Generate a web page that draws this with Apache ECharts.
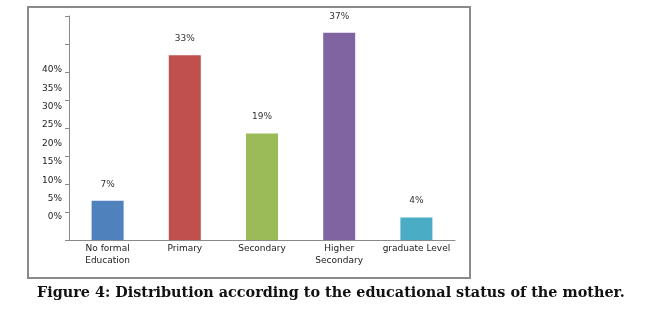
<!DOCTYPE html>
<html>
<head>
<meta charset="utf-8">
<script src="https://cdn.jsdelivr.net/npm/echarts@6/dist/echarts.min.js"></script>
<style>
  html, body { margin: 0; padding: 0; background: #fff; }
  #chart { width: 646px; height: 309px; }
</style>
</head>
<body>
<div id="chart"></div>
<script>
var categories = ['No formal\nEducation', 'Primary', 'Secondary', 'Higher\nSecondary', 'graduate Level']
var values = [7, 33, 19, 37, 4]
var barColors = ['#4F81BD', '#C0504D', '#9BBB59', '#8064A2', '#4BACC6']
var yTickLabels = [0, 5, 10, 15, 20, 25, 30, 35, 40]

var myChart = echarts.init(document.getElementById('chart'))
var option = {
  animation: false,
  textStyle: { fontFamily: 'DejaVu Sans' },
  title: {
    text: 'Figure 4: Distribution according to the educational status of the mother.',
    left: 32,
    top: 281,
    textStyle: { fontFamily: 'DejaVu Serif', fontWeight: 'bold', fontSize: 14.4, color: '#111' }
  },
  graphic: [{
    type: 'rect',
    shape: { x: 28, y: 7, width: 442, height: 271 },
    style: { fill: 'none', stroke: '#8a8a8a', lineWidth: 2 },
    silent: true
  }],
  grid: { left: 69, right: 191, top: 16, bottom: 69 },
  xAxis: {
    type: 'category',
    data: categories,
    axisLine: { lineStyle: { color: '#8a8a8a' } },
    axisTick: { length: 4, lineStyle: { color: '#8a8a8a' } },
    axisLabel: { fontSize: 9, color: '#222', margin: 3, lineHeight: 12, interval: 0 }
  },
  yAxis: [{
    type: 'value',
    min: 0,
    max: 40,
    interval: 5,
    axisLine: { show: true, lineStyle: { color: '#8a8a8a' } },
    axisTick: { show: true, length: 4, lineStyle: { color: '#8a8a8a' } },
    axisLabel: { show: false },
    splitLine: { show: false }
  }, {
    // label-only axis: the labels in the figure sit off the tick marks
    type: 'value',
    position: 'left',
    min: -6.26,
    max: 54.69,
    axisLine: { show: false },
    axisTick: { show: false },
    splitLine: { show: false },
    axisLabel: {
      customValues: yTickLabels,
      formatter: '{value}%',
      fontSize: 9,
      color: '#222',
      margin: 7
    }
  }],
  series: [{
    type: 'bar',
    yAxisIndex: 0,
    barWidth: 32,
    data: values.map(function (v, i) {
      return { value: v, itemStyle: { color: barColors[i] } }
    }),
    label: {
      show: true,
      position: 'top',
      distance: 12,
      formatter: '{c}%',
      fontSize: 9,
      color: '#333'
    }
  }]
}
myChart.setOption(option)
</script>
</body>
</html>
